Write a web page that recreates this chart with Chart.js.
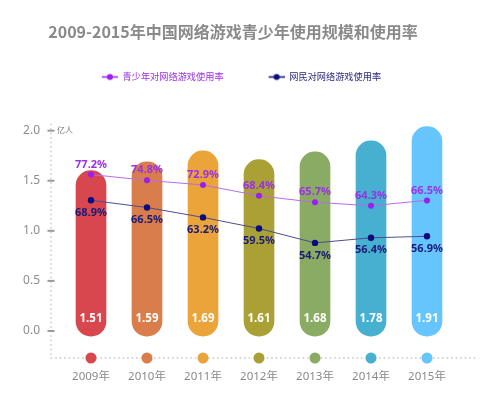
<!DOCTYPE html>
<html>
<head>
<meta charset="utf-8">
<script src="https://cdn.jsdelivr.net/npm/chart.js@4/dist/chart.umd.min.js"></script>
<style>
  html, body { margin: 0; padding: 0; background: #fff; }
</style>
</head>
<body>
<canvas id="chart" width="490" height="397"></canvas>
<script>
// data
const years = ['2009年', '2010年', '2011年', '2012年', '2013年', '2014年', '2015年'];
const userScale = [1.51, 1.59, 1.69, 1.61, 1.68, 1.78, 1.91];   // 亿人
const teenRate = [77.2, 74.8, 72.9, 68.4, 65.7, 64.3, 66.5];      // %
const netizenRate = [68.9, 66.5, 63.2, 59.5, 54.7, 56.4, 56.9];   // %
const yTicks = [0, 0.5, 1, 1.5, 2];
const unitLabel = '亿人';
const titleText = '2009-2015年中国网络游戏青少年使用规模和使用率';
const teenLabel = '青少年对网络游戏使用率';
const netizenLabel = '网民对网络游戏使用率';

const barColors = ['#d8474d', '#d97d4b', '#eba43a', '#a9a136', '#8aab64', '#47afd0', '#67c5fd'];
const purple = '#9a1ef0';
const navy = '#0b0b7e';

const FONT = "'Noto Sans', 'Noto Sans CJK SC', sans-serif";
Chart.defaults.font.family = FONT;

// little line+dot marker for the legend (left part left blank on purpose)
function legendMarker(color) {
  const c = document.createElement('canvas');
  c.width = 33;
  c.height = 9;
  const g = c.getContext('2d');
  g.strokeStyle = color;
  g.lineWidth = 1.5;
  g.beginPath();
  g.moveTo(17, 4.5);
  g.lineTo(33, 4.5);
  g.stroke();
  g.fillStyle = color;
  g.beginPath();
  g.arc(25, 4.5, 3, 0, Math.PI * 2);
  g.fill();
  return c;
}
const markers = [legendMarker(purple), legendMarker(navy)];
const legendColors = ['#9b30e6', '#2a2a80'];

const decor = {
  id: 'decor',
  beforeDatasetsDraw(chart) {
    const { ctx, chartArea, scales } = chart;
    const ax = chartArea.left - 12;
    const ay = chartArea.bottom + 1;
    ctx.save();
    ctx.strokeStyle = '#c6c6c6';
    ctx.lineWidth = 1.5;
    ctx.setLineDash([1.5, 3]);
    ctx.beginPath();
    ctx.moveTo(ax, scales.y.getPixelForValue(2.07));
    ctx.lineTo(ax, ay);
    ctx.lineTo(chartArea.right + 22, ay);
    ctx.stroke();
    ctx.setLineDash([]);

    ctx.strokeStyle = '#9a9a9a';
    ctx.lineWidth = 2;
    yTicks.forEach(v => {
      const py = scales.y.getPixelForValue(v);
      ctx.beginPath();
      ctx.moveTo(ax - 3.5, py);
      ctx.lineTo(ax + 3.5, py);
      ctx.stroke();
    });

    ctx.fillStyle = '#777';
    ctx.font = '8px ' + FONT;
    ctx.textAlign = 'left';
    ctx.textBaseline = 'middle';
    ctx.fillText(unitLabel, ax + 6, scales.y.getPixelForValue(yTicks[yTicks.length - 1]));

    years.forEach((_, i) => {
      ctx.fillStyle = barColors[i];
      ctx.beginPath();
      ctx.arc(scales.x.getPixelForValue(i), ay, 5.5, 0, Math.PI * 2);
      ctx.fill();
    });
    ctx.restore();
  },
  afterDatasetsDraw(chart) {
    const { ctx, scales } = chart;
    ctx.save();
    ctx.textAlign = 'center';
    ctx.textBaseline = 'middle';
    ctx.font = 'bold 11px ' + FONT;

    chart.getDatasetMeta(0).data.forEach((pt, i) => {
      ctx.fillStyle = '#9b30e6';
      ctx.fillText(teenRate[i].toFixed(1) + '%', pt.x, pt.y - 10);
    });
    chart.getDatasetMeta(1).data.forEach((pt, i) => {
      ctx.fillStyle = '#1a1a78';
      ctx.fillText(netizenRate[i].toFixed(1) + '%', pt.x, pt.y + 12.5);
    });

    ctx.font = 'bold 11.5px ' + FONT;
    ctx.fillStyle = '#fff';
    const base = scales.yBar.getPixelForValue(0);
    chart.getDatasetMeta(2).data.forEach((bar, i) => {
      ctx.fillText(userScale[i].toFixed(2), bar.x, base - 17);
    });
    ctx.restore();
  }
};

new Chart(document.getElementById('chart'), {
  type: 'bar',
  data: {
    labels: years,
    datasets: [
      {
        type: 'line',
        label: teenLabel,
        data: teenRate,
        yAxisID: 'yP',
        borderColor: '#b86ce6',
        borderWidth: 1,
        pointRadius: 3,
        pointBorderWidth: 0,
        pointBackgroundColor: purple,
        tension: 0,
        order: 0
      },
      {
        type: 'line',
        label: netizenLabel,
        data: netizenRate,
        yAxisID: 'yN',
        borderColor: '#4d4d8e',
        borderWidth: 1,
        pointRadius: 3.2,
        pointBorderWidth: 0,
        pointBackgroundColor: navy,
        tension: 0,
        order: 1
      },
      {
        type: 'bar',
        label: '使用规模',
        data: userScale,
        yAxisID: 'yBar',
        backgroundColor: barColors,
        barThickness: 30,
        borderRadius: 15,
        borderSkipped: false,
        order: 2
      }
    ]
  },
  options: {
    responsive: false,
    animation: false,
    layout: { padding: { left: 11, right: 35, top: 0, bottom: 0 } },
    plugins: {
      tooltip: { enabled: false },
      title: {
        display: true,
        text: titleText,
        color: '#8a8a8a',
        font: { size: 16, weight: 'bold', family: "'Noto Sans CJK SC', sans-serif" },
        padding: { top: 22.4, bottom: 2.8 }
      },
      legend: {
        display: true,
        position: 'top',
        labels: {
          usePointStyle: true,
          pointStyleWidth: 33,
          padding: 28,
          font: { size: 9.2, family: "'Noto Sans CJK SC', sans-serif" },
          generateLabels: chart => [0, 1].map(i => ({
            text: chart.data.datasets[i].label,
            fontColor: legendColors[i],
            pointStyle: markers[i],
            fillStyle: 'transparent',
            strokeStyle: 'transparent',
            lineWidth: 0,
            hidden: false,
            datasetIndex: i
          }))
        }
      }
    },
    scales: {
      x: {
        grid: { display: false },
        border: { display: false },
        ticks: { color: '#8a8a8a', font: { size: 11.5 }, padding: 5 },
        afterFit: s => { s.height = 40; }
      },
      y: {
        position: 'left',
        min: -0.26,
        max: 2.39,
        grid: { display: false, drawTicks: false },
        border: { display: false },
        afterBuildTicks: s => { s.ticks = yTicks.map(v => ({ value: v })); },
        ticks: {
          color: '#8c8c8c',
          font: { size: 12 },
          padding: 23,
          callback: v => Number(v).toFixed(1)
        },
        afterFit: s => { s.width = 52; }
      },
      yBar: { display: false, min: -0.19, max: 2.23 },
      yP: { display: false, min: 1.66, max: 111.55 },
      yN: { display: false, min: 16.67, max: 105.13 }
    }
  },
  plugins: [decor]
});
</script>
</body>
</html>
